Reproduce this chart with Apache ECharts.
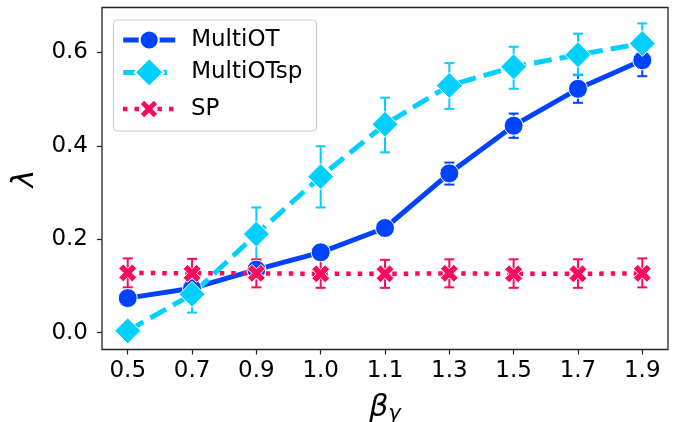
<!DOCTYPE html>
<html>
<head>
<meta charset="utf-8">
<style>
  html, body { margin: 0; padding: 0; background: #fff; }
  #chart { width: 684px; height: 422px; }
</style>
<script src="https://cdn.jsdelivr.net/npm/echarts@6/dist/echarts.min.js"></script>
</head>
<body>
<div id="chart"></div>
<script>
// beta_gamma settings on the x axis
const categories = ['0.5', '0.7', '0.9', '1.0', '1.1', '1.3', '1.5', '1.7', '1.9'];
const yTicks = [0.0, 0.2, 0.4, 0.6];

// MultiOT mean and error band
const multiOT   = [0.074, 0.095, 0.135, 0.172, 0.224, 0.341, 0.443, 0.522, 0.583];
const multiOTLo = [0.068, 0.088, 0.125, 0.160, 0.208, 0.317, 0.417, 0.492, 0.549];
const multiOTHi = [0.080, 0.102, 0.145, 0.184, 0.236, 0.364, 0.469, 0.552, 0.617];

// MultiOTsp mean and error band
const multiOTsp   = [0.004, 0.082, 0.211, 0.334, 0.446, 0.529, 0.569, 0.595, 0.619];
const multiOTspLo = [0.000, 0.043, 0.155, 0.268, 0.386, 0.479, 0.522, 0.551, 0.577];
const multiOTspHi = [0.008, 0.120, 0.268, 0.399, 0.503, 0.577, 0.612, 0.640, 0.662];

// SP mean and error band
const sp   = [0.128, 0.127, 0.127, 0.126, 0.126, 0.127, 0.126, 0.126, 0.127];
const spLo = [0.097, 0.097, 0.097, 0.096, 0.096, 0.097, 0.096, 0.096, 0.097];
const spHi = [0.159, 0.158, 0.157, 0.157, 0.156, 0.157, 0.157, 0.157, 0.159];

const BLUE = '#0043ff';
const CYAN = '#00cfff';
const PINK = '#ff0a5a';
const FONT = 'DejaVu Sans';
const X_MARK = 'path://M1,0L2,1L3,0L4,1L3,2L4,3L3,4L2,3L1,4L0,3L1,2L0,1Z';

const points = vals => vals.map((v, i) => [i, v]);
const bands = (lo, hi) => lo.map((l, i) => [i, l, hi[i]]);

function errorBars(name, color, lo, hi, z) {
  return {
    name: name + ' err',
    type: 'custom',
    z: z,
    silent: true,
    data: bands(lo, hi),
    encode: { x: 0, y: [1, 2] },
    renderItem: function (params, api) {
      const x = api.value(0);
      const a = api.coord([x, api.value(1)]);
      const b = api.coord([x, api.value(2)]);
      const cap = 5;
      const style = { stroke: color, lineWidth: 2 };
      return {
        type: 'group',
        children: [
          { type: 'line', shape: { x1: a[0], y1: a[1], x2: b[0], y2: b[1] }, style: style },
          { type: 'line', shape: { x1: a[0] - cap, y1: a[1], x2: a[0] + cap, y2: a[1] }, style: style },
          { type: 'line', shape: { x1: b[0] - cap, y1: b[1], x2: b[0] + cap, y2: b[1] }, style: style }
        ]
      };
    }
  };
}

const legendText = { fontFamily: FONT, fontSize: 23, color: '#000', lineHeight: 26, padding: [0, 0, 0, 11] };

const chart = echarts.init(document.getElementById('chart'), null, { renderer: 'canvas' });
chart.setOption({
  animation: false,
  backgroundColor: '#fff',
  grid: {
    left: 102, right: 16, top: 7.5, bottom: 72.5,
    containLabel: false, outerBoundsMode: 'none',
    show: true, borderColor: '#222', borderWidth: 1.3, backgroundColor: 'transparent'
  },
  xAxis: {
    type: 'value',
    min: -0.4, max: 8.4,
    splitLine: { show: false },
    axisLine: { show: false, onZero: false },
    axisTick: { show: true, length: 5, customValues: categories.map((c, i) => i), lineStyle: { color: '#222', width: 1.2 } },
    axisLabel: {
      customValues: categories.map((c, i) => i),
      formatter: v => categories[Math.round(v)],
      fontFamily: FONT, fontSize: 23, color: '#000', margin: 10
    },
    name: '{b|β}{s|γ}',
    nameLocation: 'middle',
    nameGap: 44,
    nameTextStyle: {
      rich: {
        b: { fontFamily: FONT, fontStyle: 'italic', fontSize: 30, color: '#000', verticalAlign: 'top', lineHeight: 32, padding: [0, 0, 8, 0] },
        s: { fontFamily: FONT, fontStyle: 'italic', fontSize: 21, color: '#000', verticalAlign: 'bottom', lineHeight: 24 }
      }
    }
  },
  yAxis: {
    type: 'value',
    min: -0.036, max: 0.696,
    splitLine: { show: false },
    axisLine: { show: false, onZero: false },
    axisTick: { show: true, length: 5, customValues: yTicks, lineStyle: { color: '#222', width: 1.2 } },
    axisLabel: {
      customValues: yTicks,
      formatter: v => v.toFixed(1),
      fontFamily: FONT, fontSize: 23, color: '#000', margin: 14
    },
    name: 'λ',
    nameLocation: 'middle',
    nameRotate: 90,
    nameGap: 57,
    nameTextStyle: { fontFamily: FONT, fontStyle: 'italic', fontSize: 30, color: '#000' }
  },
  graphic: [{
    type: 'rect', z: 3,
    shape: { x: 113.5, y: 20, width: 203, height: 111, r: 4 },
    style: { fill: 'rgba(255,255,255,0.8)', stroke: '#cccccc', lineWidth: 1.2 }
  }],
  legend: [
    { data: ['MultiOT'], left: 120.7, top: 27, padding: 0, itemWidth: 52, itemHeight: 24, z: 5,
      textStyle: legendText, lineStyle: { width: 5 } },
    { data: ['MultiOTsp'], left: 120.7, top: 57, padding: 0, itemWidth: 52, itemHeight: 36, z: 5,
      textStyle: legendText, lineStyle: { width: 5 } },
    { data: ['SP'], left: 120.7, top: 96, padding: 0, itemWidth: 52, itemHeight: 24, z: 5,
      textStyle: legendText, lineStyle: { width: 4.5 } }
  ],
  series: [
    {
      name: 'MultiOT', type: 'line', z: 2,
      data: points(multiOT),
      symbol: 'circle', symbolSize: 19,
      lineStyle: { color: BLUE, width: 5 },
      itemStyle: { color: BLUE, borderColor: '#fff', borderWidth: 1, opacity: 1 }
    },
    errorBars('MultiOT', BLUE, multiOTLo, multiOTHi, 2),
    {
      name: 'MultiOTsp', type: 'line', z: 2,
      data: points(multiOTsp),
      symbol: 'diamond', symbolSize: 26,
      lineStyle: { color: CYAN, width: 5, type: [18, 8] },
      itemStyle: { color: CYAN, borderColor: '#fff', borderWidth: 1, opacity: 1 }
    },
    errorBars('MultiOTsp', CYAN, multiOTspLo, multiOTspHi, 2),
    {
      name: 'SP', type: 'line', z: 2,
      data: points(sp),
      symbol: X_MARK, symbolSize: 18,
      lineStyle: { color: PINK, width: 4.5, type: [4.5, 7] },
      itemStyle: { color: PINK, borderColor: '#fff', borderWidth: 1, opacity: 1 }
    },
    errorBars('SP', PINK, spLo, spHi, 2)
  ]
});
</script>
</body>
</html>
